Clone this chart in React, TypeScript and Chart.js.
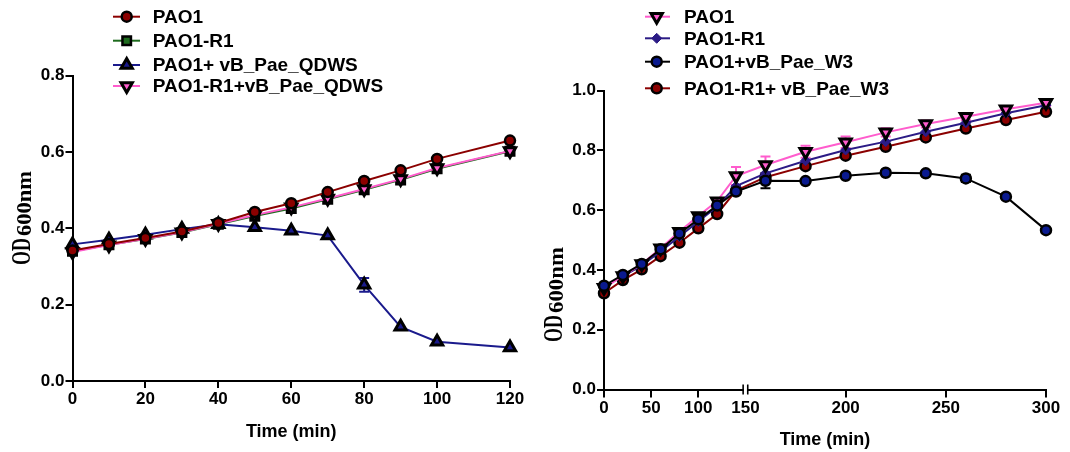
import React, { useEffect, useRef } from 'react';
import { Chart, registerables, LinearScale, PointElement } from 'chart.js';

// ---------------- data ----------------
const LEFT_TIME = [0, 10, 20, 30, 40, 50, 60, 70, 80, 90, 100, 120];
const LEFT_PAO1 = [0.342, 0.359, 0.375, 0.392, 0.414, 0.443, 0.466, 0.495, 0.524, 0.552, 0.582, 0.63];
const LEFT_PAO1_R1 = [0.34, 0.357, 0.372, 0.389, 0.411, 0.432, 0.452, 0.476, 0.501, 0.527, 0.556, 0.602];
const LEFT_PAO1_QDWS = [0.358, 0.37, 0.383, 0.398, 0.411, 0.403, 0.394, 0.381, 0.252, 0.142, 0.103, 0.088];
const LEFT_PAO1_R1_QDWS = [0.338, 0.356, 0.373, 0.39, 0.412, 0.435, 0.455, 0.478, 0.503, 0.529, 0.558, 0.603];
const LEFT_PAO1_QDWS_ERR = [0, 0, 0, 0, 0, 0, 0, 0, 0.018, 0, 0, 0];
const LEFT_LABELS = ['PAO1', 'PAO1-R1', 'PAO1+ vB_Pae_QDWS', 'PAO1-R1+vB_Pae_QDWS'];
const LEFT_X_TICKS = [0, 20, 40, 60, 80, 100, 120];
const LEFT_Y_TICKS = [0, 0.2, 0.4, 0.6, 0.8];

const RIGHT_TIME = [0, 20, 40, 60, 80, 100, 120, 140, 160, 180, 200, 220, 240, 260, 280, 300];
const RIGHT_PAO1 = [0.34, 0.38, 0.42, 0.472, 0.528, 0.58, 0.63, 0.714, 0.751, 0.795, 0.827, 0.86, 0.888, 0.912, 0.937, 0.959];
const RIGHT_PAO1_R1 = [0.345, 0.378, 0.415, 0.462, 0.512, 0.562, 0.612, 0.68, 0.723, 0.765, 0.801, 0.829, 0.862, 0.892, 0.924, 0.951];
const RIGHT_PAO1_W3 = [0.347, 0.383, 0.42, 0.469, 0.522, 0.569, 0.615, 0.662, 0.698, 0.697, 0.715, 0.725, 0.723, 0.706, 0.645, 0.533];
const RIGHT_PAO1_R1_W3 = [0.322, 0.366, 0.402, 0.446, 0.491, 0.539, 0.587, 0.665, 0.71, 0.747, 0.782, 0.812, 0.843, 0.873, 0.901, 0.929];
const RIGHT_PAO1_ERR = [0, 0, 0, 0, 0, 0, 0, 0.03, 0.028, 0.02, 0.019, 0.014, 0.012, 0.011, 0.011, 0.011];
const RIGHT_PAO1_W3_ERR = [0, 0, 0, 0, 0, 0, 0, 0, 0.025, 0, 0, 0, 0, 0.012, 0, 0];
const RIGHT_LABELS = ['PAO1', 'PAO1-R1', 'PAO1+vB_Pae_W3', 'PAO1-R1+ vB_Pae_W3'];
const RIGHT_X_TICKS = [0, 50, 100, 150, 200, 250, 300];
const RIGHT_Y_TICKS = [0, 0.2, 0.4, 0.6, 0.8, 1.0];

const X_TITLE = 'Time (min)';

// ---------------- style ----------------
const FONT = '"Liberation Sans", Arial, sans-serif';
const SERIF = '"Liberation Serif", "Times New Roman", serif';
const BREAK_AT = 150;
const BREAK_FRACTION = 0.32;

class BrokenLinearScale extends LinearScale {
  static id = 'brokenLinear';
  static defaults = LinearScale.defaults;
  getPixelForValue(value: any) {
    if (value === null || value === undefined || isNaN(value)) return NaN;
    const min = this.min, max = this.max;
    let dec;
    if (value <= BREAK_AT) dec = ((value - min) / (BREAK_AT - min)) * BREAK_FRACTION;
    else dec = BREAK_FRACTION + ((value - BREAK_AT) / (max - BREAK_AT)) * (1 - BREAK_FRACTION);
    return this.getPixelForDecimal(dec);
  }
  getValueForPixel(pixel: number) {
    const dec = this.getDecimalForPixel(pixel);
    const min = this.min, max = this.max;
    if (dec <= BREAK_FRACTION) return min + (dec / BREAK_FRACTION) * (BREAK_AT - min);
    return BREAK_AT + ((dec - BREAK_FRACTION) / (1 - BREAK_FRACTION)) * (max - BREAK_AT);
  }
}

Chart.register(...registerables, BrokenLinearScale as any);

function series(label: string, xs: number[], ys: number[], st: any, errs?: number[]) {
  return {
    label,
    data: xs.map((x, i) => ({ x, y: ys[i] })),
    borderColor: st.line,
    borderWidth: 2,
    pointStyle: st.style,
    pointRotation: st.rotation || 0,
    pointRadius: st.radius,
    pointBorderWidth: st.bw,
    pointBorderColor: st.pointBorder,
    pointBackgroundColor: st.fill,
    tension: 0,
    clip: false as any,
    order: st.order || 0,
    errorBars: errs,
    errorColor: st.errColor || st.line,
  };
}

function makeLegend(cfg: { x0: number; x1: number; mx: number; tx: number; rows: number[] }) {
  return {
    id: 'panelLegend',
    afterDraw(chart: any) {
      const ctx = chart.ctx;
      chart.data.datasets.forEach((ds: any, i: number) => {
        const y = cfg.rows[i];
        ctx.save();
        ctx.strokeStyle = ds.borderColor;
        ctx.lineWidth = 2;
        ctx.beginPath();
        ctx.moveTo(cfg.x0, y);
        ctx.lineTo(cfg.x1, y);
        ctx.stroke();
        const pt: any = new PointElement({
          x: cfg.mx,
          y,
          options: {
            pointStyle: ds.pointStyle,
            radius: ds.pointRadius,
            rotation: ds.pointRotation || 0,
            borderWidth: ds.pointBorderWidth,
            borderColor: ds.pointBorderColor,
            backgroundColor: ds.pointBackgroundColor,
          },
        } as any);
        pt.draw(ctx, { left: 0, top: 0, right: chart.width, bottom: chart.height });
        ctx.fillStyle = '#000';
        ctx.font = `bold 19px ${FONT}`;
        ctx.textBaseline = 'middle';
        ctx.textAlign = 'left';
        ctx.fillText(ds.label, cfg.tx, y + 1);
        ctx.restore();
      });
    },
  };
}

function makeYTitle(cfg: { baseX: number; startY: number; odLen: number; subLen: number }) {
  return {
    id: 'yTitle',
    afterDraw(chart: any) {
      const ctx = chart.ctx;
      ctx.save();
      ctx.translate(cfg.baseX, cfg.startY);
      ctx.rotate(-Math.PI / 2);
      ctx.fillStyle = '#000';
      ctx.textBaseline = 'alphabetic';
      ctx.textAlign = 'left';
      ctx.font = `bold 28px ${SERIF}`;
      const w1 = ctx.measureText('OD').width;
      ctx.save();
      ctx.scale(cfg.odLen / w1, 1);
      ctx.fillText('OD', 0, 0);
      ctx.restore();
      ctx.font = `bold 21px ${SERIF}`;
      const w2 = ctx.measureText('600nm').width;
      ctx.save();
      ctx.translate(cfg.odLen + 2, 1);
      ctx.scale(cfg.subLen / w2, 1);
      ctx.fillText('600nm', 0, 0);
      ctx.restore();
      ctx.restore();
    },
  };
}

const errorBarPlugin = {
  id: 'errorBars',
  beforeDatasetsDraw(chart: any) {
    const ctx = chart.ctx;
    const xs = chart.scales.x, ys = chart.scales.y;
    chart.data.datasets.forEach((ds: any) => {
      const errs = ds.errorBars;
      if (!errs) return;
      ds.data.forEach((p: any, i: number) => {
        const e = errs[i];
        if (!e) return;
        const px = xs.getPixelForValue(p.x);
        const t = ys.getPixelForValue(p.y + e);
        const b = ys.getPixelForValue(p.y - e);
        ctx.save();
        ctx.strokeStyle = ds.errorColor;
        ctx.lineWidth = 2;
        ctx.beginPath();
        ctx.moveTo(px, t);
        ctx.lineTo(px, b);
        ctx.moveTo(px - 5, t);
        ctx.lineTo(px + 5, t);
        ctx.moveTo(px - 5, b);
        ctx.lineTo(px + 5, b);
        ctx.stroke();
        ctx.restore();
      });
    });
  },
};

const breakPlugin = {
  id: 'axisBreak',
  afterDraw(chart: any) {
    const ctx = chart.ctx;
    const bx = chart.scales.x.getPixelForValue(BREAK_AT);
    const y = chart.chartArea.bottom;
    ctx.save();
    ctx.fillStyle = '#fff';
    ctx.fillRect(bx - 1.6, y - 3, 3.2, 12);
    ctx.strokeStyle = '#000';
    ctx.lineWidth = 1.6;
    [-2.3, 2.3].forEach((dx) => {
      ctx.beginPath();
      ctx.moveTo(bx + dx, y - 5);
      ctx.lineTo(bx + dx, y + 5);
      ctx.stroke();
    });
    ctx.restore();
  },
};

function axis(tickLen: number, tickValues: number[], fixed: number, isY: boolean, extra: any) {
  return {
    border: { display: true, color: '#000', width: 2 },
    grid: { display: true, drawOnChartArea: false, drawTicks: true, tickLength: tickLen, color: '#000', lineWidth: 2 },
    ticks: {
      color: '#000',
      font: { family: FONT, size: 17, weight: 'bold' },
      padding: 1,
      autoSkip: false,
      maxRotation: 0,
      callback: (v: any) => (isY ? Number(v).toFixed(1) : String(v)),
    },
    afterBuildTicks: (s: any) => {
      s.ticks = tickValues.map((v) => ({ value: v }));
    },
    afterFit: (s: any) => {
      if (isY) s.width = fixed;
      else s.height = fixed;
    },
    ...extra,
  };
}

function xTitle() {
  return { display: true, text: X_TITLE, color: '#000', font: { family: FONT, size: 18, weight: 'bold' }, padding: 0 };
}

function leftConfig(): any {
  return {
    type: 'line',
    data: {
      datasets: [
        series(LEFT_LABELS[0], LEFT_TIME, LEFT_PAO1, { line: '#8b0000', style: 'circle', radius: 5, bw: 2.5, pointBorder: '#000', fill: '#8b0000', order: 0 }),
        series(LEFT_LABELS[1], LEFT_TIME, LEFT_PAO1_R1, { line: '#1e6b1e', style: 'rect', radius: 6, bw: 2.5, pointBorder: '#000', fill: '#1e6b1e', order: 2 }),
        series(LEFT_LABELS[2], LEFT_TIME, LEFT_PAO1_QDWS, { line: '#1a1a8c', style: 'triangle', radius: 6.5, bw: 3, pointBorder: '#000', fill: '#1a1a8c', order: 3 }, LEFT_PAO1_QDWS_ERR),
        series(LEFT_LABELS[3], LEFT_TIME, LEFT_PAO1_R1_QDWS, { line: '#ff5ccd', style: 'triangle', rotation: 180, radius: 6.5, bw: 3, pointBorder: '#000', fill: '#ff5ccd', order: 1 }),
      ],
    },
    options: {
      responsive: false,
      animation: false,
      devicePixelRatio: 1,
      events: [],
      layout: { padding: { left: 0, top: 75.7, right: 25, bottom: 9 } },
      plugins: { legend: { display: false }, tooltip: { enabled: false } },
      scales: {
        x: axis(7, LEFT_X_TICKS, 62, false, { type: 'linear', min: 0, max: 120, title: xTitle() }),
        y: axis(7, LEFT_Y_TICKS, 72.5, true, { type: 'linear', min: 0, max: 0.8 }),
      },
    },
    plugins: [
      errorBarPlugin,
      makeLegend({ x0: 113, x1: 140, mx: 126.7, tx: 152.7, rows: [16.7, 40.7, 65, 86] }),
      makeYTitle({ baseX: 30, startY: 265, odLen: 27, subLen: 65 }),
    ],
  };
}

function rightConfig(): any {
  return {
    type: 'line',
    data: {
      datasets: [
        series(RIGHT_LABELS[0], RIGHT_TIME, RIGHT_PAO1, { line: '#ff5ccd', style: 'triangle', rotation: 180, radius: 6.5, bw: 3, pointBorder: '#000', fill: '#ff5ccd', order: 1 }, RIGHT_PAO1_ERR),
        series(RIGHT_LABELS[1], RIGHT_TIME, RIGHT_PAO1_R1, { line: '#2b1b85', style: 'rectRot', radius: 5, bw: 1, pointBorder: '#2b1b85', fill: '#2b1b85', order: 2 }),
        series(RIGHT_LABELS[2], RIGHT_TIME, RIGHT_PAO1_W3, { line: '#000000', style: 'circle', radius: 5, bw: 2.5, pointBorder: '#000', fill: '#0a1a8f', order: 0 }, RIGHT_PAO1_W3_ERR),
        series(RIGHT_LABELS[3], RIGHT_TIME, RIGHT_PAO1_R1_W3, { line: '#8b0000', style: 'circle', radius: 5, bw: 2.5, pointBorder: '#000', fill: '#8b0000', order: 3 }),
      ],
    },
    options: {
      responsive: false,
      animation: false,
      devicePixelRatio: 1,
      events: [],
      layout: { padding: { left: 0, top: 90.5, right: 24, bottom: 1.2 } },
      plugins: { legend: { display: false }, tooltip: { enabled: false } },
      scales: {
        x: axis(8, RIGHT_X_TICKS, 61.3, false, { type: 'brokenLinear', min: 0, max: 300, title: xTitle() }),
        y: axis(7, RIGHT_Y_TICKS, 69, true, { type: 'linear', min: 0, max: 1.0 }),
      },
    },
    plugins: [
      errorBarPlugin,
      breakPlugin,
      makeLegend({ x0: 110, x1: 135, mx: 121.7, tx: 149, rows: [16.7, 38.3, 61.7, 88.3] }),
      makeYTitle({ baseX: 27, startY: 342, odLen: 27, subLen: 66 }),
    ],
  };
}

export default function App() {
  const leftRef = useRef<HTMLCanvasElement>(null);
  const rightRef = useRef<HTMLCanvasElement>(null);
  useEffect(() => {
    const c1 = new Chart(leftRef.current as HTMLCanvasElement, leftConfig());
    const c2 = new Chart(rightRef.current as HTMLCanvasElement, rightConfig());
    return () => {
      c1.destroy();
      c2.destroy();
    };
  }, []);
  return (
    <div style={{ position: 'absolute', left: 0, top: 0, width: 1070, height: 452, background: '#fff' }}>
      <canvas ref={leftRef} width={535} height={452} style={{ position: 'absolute', left: 0, top: 0 }} />
      <canvas ref={rightRef} width={535} height={452} style={{ position: 'absolute', left: 535, top: 0 }} />
    </div>
  );
}
